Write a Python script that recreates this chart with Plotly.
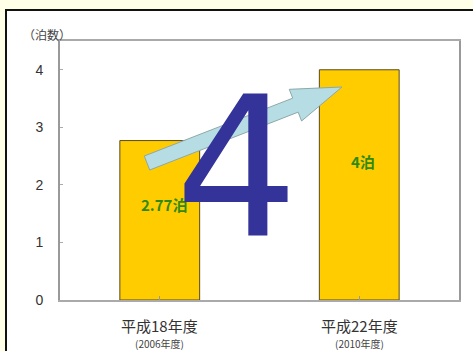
import plotly.graph_objects as go
import numpy as np

categories = ["平成18年度", "平成22年度"]
sub_labels = ["(2006年度)", "(2010年度)"]
nights = [2.77, 4]
bar_text = ["2.77泊", "4泊"]
y_ticks = [0, 1, 2, 3, 4]
big_label = "4"

W, H = 473, 351
L, R, T, B = 60, 14, 41, 51
pw, ph = W - L - R, H - T - B
y_max = 4.5

def px_to_data(px, py):
    x = (px - L) / pw * 2 - 0.5
    y = (H - B - py) / ph * y_max
    return x, y

def px_to_paper(px, py):
    return (px - L) / pw, (H - B - py) / ph

fig = go.Figure()
fig.add_trace(go.Bar(
    x=list(range(len(categories))), y=nights, width=0.4,
    marker=dict(color="#FFCC00", line=dict(color="#5A4A20", width=1)),
    hoverinfo="skip",
))

for i, (v, t) in enumerate(zip(nights, bar_text)):
    fig.add_annotation(text="<b>%s</b>" % t, x=i + 0.02, y=v * 0.6, xref="x", yref="y",
                       showarrow=False,
                       font=dict(color="#2F8A14", size=15, family="Noto Sans CJK JP"))

# arrow (decoration) in pixel geometry
tail = np.array([147.0, 163.0]); tip = np.array([342.0, 87.0])
d = tip - tail; Ln = np.hypot(*d); u = d / Ln; n = np.array([-u[1], u[0]])
sw, hw, hl = 7.5, 17.0, 50.0
base = tip - u * hl
pts = [tail + n * sw, base + n * sw, base + n * hw, tip, base - n * hw, base - n * sw, tail - n * sw]
path = "M " + " L ".join("%.4f,%.4f" % px_to_data(*p) for p in pts) + " Z"
fig.add_shape(type="path", path=path, xref="x", yref="y",
              fillcolor="#B6DDE4", line=dict(color="#8FA8A8", width=1), layer="above")

# outer frame
x0, y0 = px_to_paper(6, 10)
x1, y1 = px_to_paper(W + 10, H + 10)
fig.add_shape(type="rect", xref="paper", yref="paper", x0=x0, y0=y1, x1=x1, y1=y0,
              fillcolor="white", line=dict(color="#111111", width=2), layer="below")

tx, ty = px_to_paper(47, 34)
fig.add_annotation(text="（泊数）", xref="paper", yref="paper", x=tx, y=ty,
                   xanchor="center", yanchor="middle",
                   showarrow=False, font=dict(size=12, color="#444444", family="Noto Sans CJK JP"))

for i, (c, s) in enumerate(zip(categories, sub_labels)):
    fig.add_annotation(text=c, x=i, xref="x", yref="paper", y=px_to_paper(0, 325)[1],
                       xanchor="center", yanchor="middle",
                       showarrow=False, font=dict(size=15, color="#333333", family="Noto Sans CJK JP"))
    fig.add_annotation(text=s, x=i, xref="x", yref="paper", y=px_to_paper(0, 343)[1],
                       xanchor="center", yanchor="middle",
                       showarrow=False, font=dict(size=10, color="#444444", family="Noto Sans CJK JP"))

bx, by = px_to_paper(236, 168)
fig.add_annotation(text=big_label, xref="paper", yref="paper", x=bx, y=by,
                   xanchor="center", yanchor="middle",
                   showarrow=False, font=dict(size=194, color="#333399", family="DejaVu Sans"))

fig.update_layout(
    width=W, height=H, margin=dict(l=L, r=R, t=T, b=B),
    paper_bgcolor="#FFFFE8", plot_bgcolor="white", showlegend=False,
    xaxis=dict(range=[-0.5, 1.5], tickvals=[0, 1], ticktext=["", ""], tickson="boundaries",
               ticks="inside", ticklen=4, tickcolor="#999999",
               showline=True, mirror=True, linecolor="#AAAAAA", linewidth=2, showgrid=False, zeroline=False),
    yaxis=dict(range=[0, y_max], tickvals=y_ticks, ticks="inside", ticklen=3, tickcolor="#AAAAAA",
               showline=True, mirror=True, linecolor="#999999", linewidth=2, showgrid=False, zeroline=False,
               ticklabelstandoff=12,
               tickfont=dict(size=14, color="#333333", family="Liberation Sans")),
)
fig.write_html("out.html")
